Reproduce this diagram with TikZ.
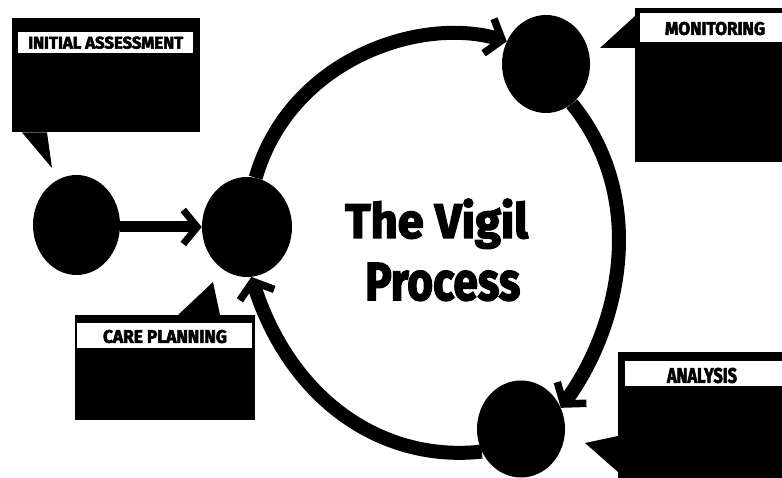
\documentclass[tikz,border=0pt]{standalone}
\usepackage{fontspec}
\usepackage{graphicx}
\setmainfont{Fira Sans}
\newfontfamily\titlefont{Fira Sans}[FakeBold=3]
\usetikzlibrary{shapes.geometric,arrows.meta}
\tikzset{
  dot/.style={ellipse,fill=black,inner sep=0pt},
  flow/.style={line width=14pt,-{Straight Barb[length=14pt,width=36pt,line width=7.5pt]}},
  callbox/.style={fill=black,inner sep=0pt,anchor=north west},
  band/.style={fill=white,inner sep=0pt,anchor=north west},
  lbl/.style={inner sep=0pt,text=black,font=\titlefont\bfseries},
  ttl/.style={inner sep=0pt,anchor=base west,text=black}
}
\begin{document}
\begin{tikzpicture}[x=1pt,y=-1pt]
\useasboundingbox (0,0) rectangle (782,478);
% circles
\node[dot,minimum width=87pt,minimum height=100pt] (init) at (76.5,225) {};
\node[dot,minimum width=90pt,minimum height=100pt] (care) at (247,227) {};
\node[dot,minimum width=88pt,minimum height=98pt] (mon) at (546,64) {};
\node[dot,minimum width=88pt,minimum height=97pt] (ana) at (521,429) {};
% connectors
\draw[line width=11pt,-{Straight Barb[length=14pt,width=34pt,line width=7pt]}] (init.east |- 0,227) -- (care.west |- 0,227);
\draw[flow] (care.80) .. controls +(34,-118) and +(-87,-26) .. (mon.150);
\draw[flow] (mon.303) .. controls +(75,92) and +(62,-85) .. (ana.28);
\draw[flow] (ana.210) .. controls +(-100,11) and +(39,123) .. (care.275);
% callout: initial assessment
\node[callbox,minimum width=188pt,minimum height=114pt] (iabox) at (12,18) {};
\fill (iabox.south west) ++(10,0) coordinate (iat1) -- ++(25,0) coordinate (iat2) -- (52,168) coordinate (iatip) -- cycle;
\node[band,minimum width=175pt,minimum height=21pt] (iaband) at (18,32) {};
\node[lbl] (ialbl) at (iaband.center) {\resizebox{155pt}{12pt}{INITIAL ASSESSMENT}};
% callout: monitoring
\node[callbox,minimum width=160pt,minimum height=154pt] (monbox) at (635,8) {};
\fill (monbox.north west) ++(0,8) coordinate (mont1) -- (600,48) coordinate (montip) -- (monbox.west |- 0,48) coordinate (mont2) -- cycle;
\node[band,minimum width=145pt,minimum height=29pt] (monband) at (640,13) {};
\node[lbl] (monlbl) at (715,28.5) {\resizebox{100pt}{13pt}{MONITORING}};
% callout: care planning
\node[callbox,minimum width=180pt,minimum height=105pt] (cpbox) at (75,315) {};
\fill (178,315) coordinate (cpt1) -- (213,282) coordinate (cptip) -- (220,315) coordinate (cpt2) -- cycle;
\node[band,minimum width=175pt,minimum height=25pt] (cpband) at (77,323) {};
\node[lbl] (cplbl) at (165,336.5) {\resizebox{124pt}{13pt}{CARE PLANNING}};
% callout: analysis
\node[callbox,minimum width=170pt,minimum height=130pt] (anabox) at (618,352) {};
\fill (618,436) coordinate (anat1) -- (585,443) coordinate (anatip) -- (618,472) coordinate (anat2) -- cycle;
\node[band,minimum width=157pt,minimum height=25pt] (anaband) at (625,361) {};
\node[lbl] (analbl) at (702,375.5) {\resizebox{70pt}{15pt}{ANALYSIS}};
% title
\node[ttl] (title1) at (345,238) {\resizebox*{183pt}{50pt}{\titlefont\bfseries The Vigil}};
\node[ttl] (title2) at (365,300) {\resizebox{155pt}{37pt}{\titlefont\bfseries Process}};
\end{tikzpicture}
\end{document}
